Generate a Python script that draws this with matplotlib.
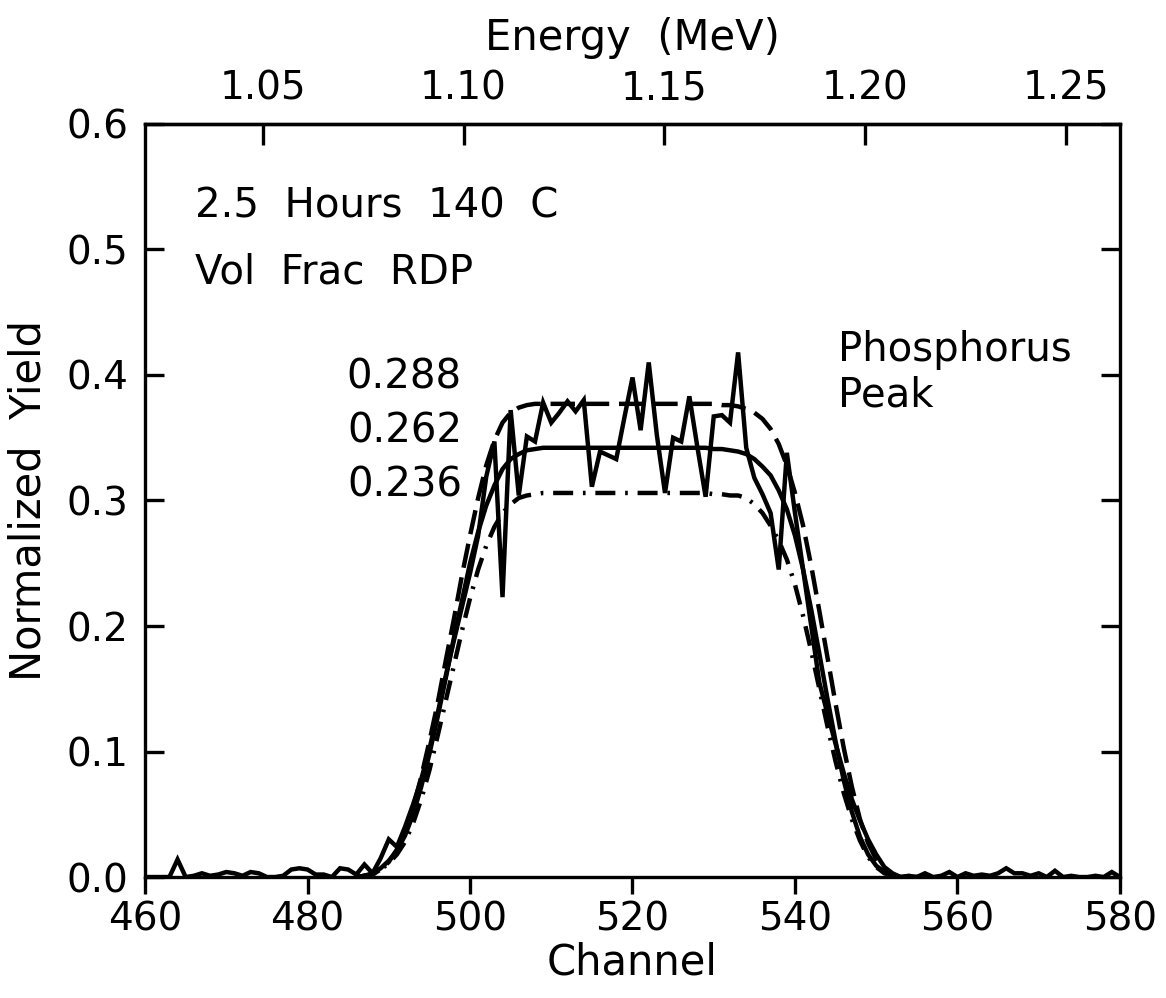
import numpy as np
import matplotlib
matplotlib.use("Agg")
import matplotlib.pyplot as plt

# channel axis
channel = np.arange(460, 581)

# measured yield, one value per channel 460..580
measured = [
    0.0, 0.0, 0.0, 0.0, 0.014, 0.0, 0.001, 0.003, 0.001, 0.002,
    0.004, 0.003, 0.001, 0.004, 0.003, 0.0, 0.0, 0.001, 0.006, 0.007,
    0.006, 0.002, 0.002, 0.0, 0.007, 0.006, 0.002, 0.010, 0.003, 0.015,
    0.030, 0.024, 0.040, 0.058, 0.078, 0.102, 0.130, 0.160, 0.188, 0.215,
    0.242, 0.272, 0.319, 0.347, 0.223, 0.372, 0.304, 0.351, 0.347, 0.378,
    0.362, 0.370, 0.379, 0.371, 0.380, 0.311, 0.339, 0.336, 0.333, 0.366,
    0.398, 0.356, 0.410, 0.352, 0.306, 0.350, 0.347, 0.383, 0.342, 0.303,
    0.367, 0.368, 0.362, 0.418, 0.342, 0.318, 0.305, 0.290, 0.245, 0.338,
    0.290, 0.245, 0.200, 0.155, 0.130, 0.106, 0.083, 0.062, 0.045, 0.030,
    0.018, 0.008, 0.003, 0.0, 0.001, 0.0, 0.003, 0.0, 0.001, 0.004,
    0.0, 0.003, 0.001, 0.002, 0.001, 0.003, 0.007, 0.003, 0.003, 0.001,
    0.003, 0.0, 0.005, 0.0, 0.001, 0.0, 0.0, 0.001, 0.0, 0.004,
    0.0,
]

# simulated profiles, channels 486..556 (zero outside)
model_channel = np.arange(486, 557)
fit_288 = [
    0.0, 0.001, 0.002, 0.006, 0.012, 0.022, 0.035, 0.055, 0.080, 0.108,
    0.138, 0.172, 0.205, 0.240, 0.272, 0.302, 0.328, 0.348, 0.362, 0.370,
    0.374, 0.376, 0.377, 0.377, 0.377, 0.377, 0.377, 0.377, 0.377, 0.377,
    0.377, 0.377, 0.377, 0.377, 0.377, 0.377, 0.377, 0.377, 0.377, 0.377,
    0.377, 0.377, 0.377, 0.377, 0.377, 0.376, 0.376, 0.375, 0.373, 0.370,
    0.365, 0.357, 0.345, 0.328, 0.306, 0.280, 0.248, 0.212, 0.175, 0.138,
    0.103, 0.072, 0.046, 0.027, 0.014, 0.006, 0.002, 0.0, 0.0, 0.0,
    0.0,
]
fit_262 = [
    0.0, 0.001, 0.003, 0.007, 0.013, 0.021, 0.033, 0.050, 0.072, 0.098,
    0.127, 0.158, 0.190, 0.220, 0.250, 0.275, 0.296, 0.312, 0.325, 0.333,
    0.337, 0.340, 0.341, 0.342, 0.342, 0.342, 0.342, 0.342, 0.342, 0.342,
    0.342, 0.342, 0.342, 0.342, 0.342, 0.342, 0.342, 0.342, 0.342, 0.342,
    0.342, 0.342, 0.342, 0.342, 0.341, 0.341, 0.340, 0.339, 0.337, 0.333,
    0.327, 0.320, 0.308, 0.293, 0.272, 0.245, 0.213, 0.178, 0.142, 0.108,
    0.077, 0.052, 0.032, 0.018, 0.009, 0.004, 0.001, 0.0, 0.0, 0.0,
    0.0,
]
fit_236 = [
    0.0, 0.001, 0.002, 0.006, 0.011, 0.018, 0.028, 0.043, 0.062, 0.085,
    0.112, 0.140, 0.168, 0.196, 0.222, 0.245, 0.264, 0.279, 0.290, 0.297,
    0.302, 0.304, 0.305, 0.306, 0.306, 0.306, 0.306, 0.306, 0.306, 0.306,
    0.306, 0.306, 0.306, 0.306, 0.306, 0.306, 0.306, 0.306, 0.306, 0.306,
    0.306, 0.306, 0.306, 0.306, 0.305, 0.305, 0.304, 0.304, 0.302, 0.297,
    0.290, 0.280, 0.268, 0.253, 0.233, 0.208, 0.180, 0.150, 0.120, 0.092,
    0.067, 0.046, 0.029, 0.016, 0.008, 0.003, 0.001, 0.0, 0.0, 0.0,
    0.0,
]
fit_labels = ["0.288", "0.262", "0.236"]

# energy calibration of the top axis
energy_ticks = [1.05, 1.10, 1.15, 1.20, 1.25]
ch_ref = 474.5
e_ref = 1.05
mev_per_ch = 0.002024


def ch_to_e(c):
    return e_ref + (np.asarray(c) - ch_ref) * mev_per_ch


def e_to_ch(e):
    return ch_ref + (np.asarray(e) - e_ref) / mev_per_ch


plt.rcParams['font.family'] = ['DejaVu Sans']
fs_tick = 28
fs_lab = 30
fs_txt = 29

fig = plt.figure(figsize=(11.66, 9.98), dpi=100)
ax = fig.add_axes([0.1244, 0.1212, 0.8361, 0.7546])

lw = 3.2
ax.plot(channel, measured, color='black', lw=lw, solid_joinstyle='miter')
ax.plot(model_channel, fit_288, color='black', lw=lw, dashes=(5.5, 2.2))
ax.plot(model_channel, fit_262, color='black', lw=lw)
ax.plot(model_channel, fit_236, color='black', lw=lw, dashes=(4.5, 2.2, 0.6, 2.2))

ax.set_xlim(460, 580)
ax.set_ylim(0, 0.6)
ax.set_xticks(np.arange(460, 581, 20))
ax.set_yticks(np.arange(0, 0.61, 0.1))
ax.yaxis.set_major_formatter(matplotlib.ticker.FormatStrFormatter('%.1f'))

for s in ax.spines.values():
    s.set_linewidth(2.4)

ax.tick_params(axis='y', direction='in', right=True, length=14, width=2.4,
               labelsize=fs_tick, pad=12)
ax.tick_params(axis='x', direction='out', length=12, width=2.4,
               labelsize=fs_tick, pad=5)

secax = ax.secondary_xaxis('top', functions=(ch_to_e, e_to_ch))
secax.set_xticks(energy_ticks)
secax.xaxis.set_major_formatter(matplotlib.ticker.FormatStrFormatter('%.2f'))
secax.tick_params(direction='in', length=15, width=2.4, labelsize=fs_tick, pad=12)
secax.spines['top'].set_linewidth(2.4)
secax.set_xlabel('Energy  (MeV)', fontsize=fs_lab, labelpad=14)

ax.set_xlabel('Channel', fontsize=fs_lab, labelpad=2)
ax.set_ylabel('Normalized  Yield', fontsize=fs_lab, labelpad=12)

ax.text(466.2, 0.534, '2.5  Hours  140  C', fontsize=fs_txt, va='center', ha='left')
ax.text(466.2, 0.482, 'Vol  Frac  RDP', fontsize=fs_txt, va='center', ha='left')
ax.text(545.3, 0.420, 'Phosphorus', fontsize=fs_txt, va='center', ha='left')
ax.text(545.3, 0.384, 'Peak', fontsize=fs_txt, va='center', ha='left')
for lab, yv in zip(fit_labels, [0.398, 0.355, 0.312]):
    ax.text(499.0, yv, lab, fontsize=fs_txt, va='center', ha='right')

fig.savefig('out.png', dpi=100)
